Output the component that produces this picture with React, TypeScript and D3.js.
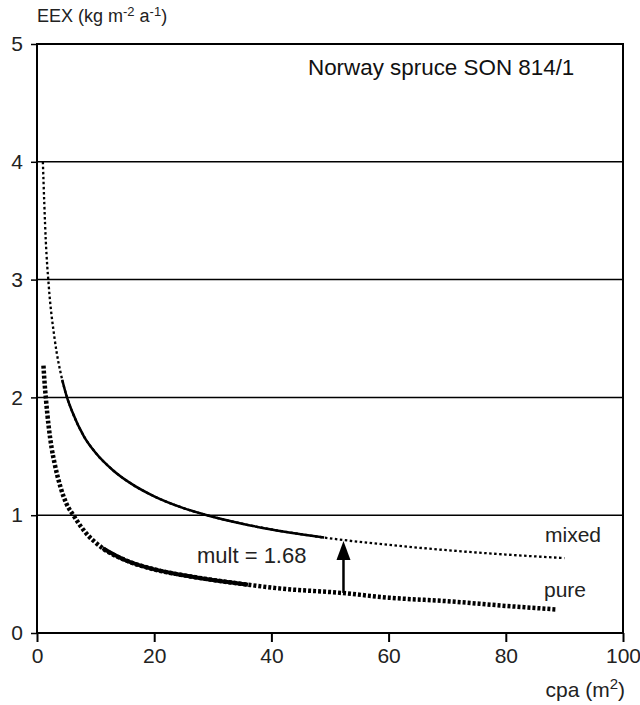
import { useEffect, useRef } from "react"
import * as d3 from "d3"

// axis ticks
const xTicks = [0, 20, 40, 60, 80, 100]
const yTicks = [0, 1, 2, 3, 4, 5]

// mixed stand curve (cpa, EEX)
const mixedX = [1, 1.5, 2, 3, 4.3, 5, 6, 8, 10, 13, 16, 20, 25, 29, 35, 40, 45, 49, 55, 60, 70, 80, 90]
const mixedY = [4.0, 3.33, 2.95, 2.5, 2.15, 2.02, 1.88, 1.67, 1.53, 1.38, 1.27, 1.16, 1.06, 1.0, 0.928, 0.879, 0.839, 0.81, 0.774, 0.748, 0.703, 0.666, 0.636]
const mixedSolid = [4.3, 49]

// pure stand curve
const pureX = [1.1, 1.3, 1.5, 2, 2.5, 3, 4, 5, 6.2, 8, 11.2, 15, 20, 25, 30, 36, 41, 52, 60, 70, 80, 88.6]
const pureY = [2.27, 2.12, 2.0, 1.75, 1.57, 1.44, 1.24, 1.1, 1.0, 0.87, 0.72, 0.62, 0.54, 0.49, 0.45, 0.41, 0.38, 0.34, 0.3, 0.27, 0.23, 0.2]
const pureSolid = [11.2, 36]

// multiplier arrow
const arrowX = 52.3
const arrowFrom = 0.34
const arrowTo = 0.78

const FONT = "'Liberation Sans', Arial, Helvetica, sans-serif"

export default function App() {
  const svgRef = useRef<SVGSVGElement>(null)

  useEffect(() => {
    if (!svgRef.current) return
    const width = 640
    const height = 705
    const svg = d3.select(svgRef.current)
    svg.selectAll("*").remove()
    svg.attr("width", width).attr("height", height).style("font-family", FONT)

    const x = d3.scaleLinear().domain([0, 100]).range([37, 623])
    const y = d3.scaleLinear().domain([0, 5]).range([633, 44])

    // horizontal grid lines
    svg.append("g")
      .selectAll("line")
      .data(yTicks.filter(d => d > 0 && d < 5))
      .join("line")
      .attr("x1", x(0)).attr("x2", x(100))
      .attr("y1", d => y(d)).attr("y2", d => y(d))
      .attr("stroke", "#000").attr("stroke-width", 1.5)

    // frame
    svg.append("rect")
      .attr("x", x(0)).attr("y", y(5))
      .attr("width", x(100) - x(0)).attr("height", y(0) - y(5))
      .attr("fill", "none").attr("stroke", "#000").attr("stroke-width", 2)

    // x axis
    const xAxis = svg.append("g").attr("transform", `translate(0,${y(0)})`)
      .call(d3.axisBottom(x).tickValues(xTicks).tickSize(9).tickPadding(6).tickFormat(d3.format("d")))
    xAxis.select(".domain").remove()
    xAxis.selectAll("line").attr("stroke-width", 2)
    xAxis.selectAll("text").attr("font-size", 21).attr("font-family", FONT).attr("fill", "#222")

    // y axis
    const yAxis = svg.append("g").attr("transform", `translate(${x(0)},0)`)
      .call(d3.axisLeft(y).tickValues(yTicks).tickSize(6).tickPadding(8).tickFormat(d3.format("d")))
    yAxis.select(".domain").remove()
    yAxis.selectAll("line").attr("stroke-width", 1.5)
    yAxis.selectAll("text").attr("font-size", 21).attr("font-family", FONT).attr("fill", "#222")

    // axis titles
    const yt = svg.append("text").attr("x", 37).attr("y", 22).attr("font-size", 18).attr("fill", "#222")
    yt.append("tspan").text("EEX (kg m")
    yt.append("tspan").attr("dy", -6).attr("font-size", 13).text("-2")
    yt.append("tspan").attr("dy", 6).text(" a")
    yt.append("tspan").attr("dy", -6).attr("font-size", 13).text("-1")
    yt.append("tspan").attr("dy", 6).text(")")

    const xt = svg.append("text").attr("x", 625).attr("y", 697).attr("text-anchor", "end")
      .attr("font-size", 21).attr("fill", "#222")
    xt.append("tspan").text("cpa (m")
    xt.append("tspan").attr("dy", -8).attr("font-size", 15).text("2")
    xt.append("tspan").attr("dy", 8).text(")")

    svg.append("text").attr("x", 308).attr("y", 75).attr("font-size", 22.4).attr("fill", "#111")
      .text("Norway spruce SON 814/1")

    const line = d3.line<[number, number]>()
      .x(d => x(d[0])).y(d => y(d[1]))
      .curve(d3.curveMonotoneX)

    const mixed: [number, number][] = mixedX.map((v, i) => [v, mixedY[i]])
    const pure: [number, number][] = pureX.map((v, i) => [v, pureY[i]])

    // dotted full curves
    svg.append("path").datum(pure).attr("d", line)
      .attr("fill", "none").attr("stroke", "#000").attr("stroke-width", 4.5)
      .attr("stroke-dasharray", "3 2")
    svg.append("path").datum(mixed).attr("d", line)
      .attr("fill", "none").attr("stroke", "#000").attr("stroke-width", 2.3)
      .attr("stroke-dasharray", "2.5 2.5")

    // solid observed ranges
    svg.append("path").datum(pure.filter(d => d[0] >= pureSolid[0] && d[0] <= pureSolid[1])).attr("d", line)
      .attr("fill", "none").attr("stroke", "#000").attr("stroke-width", 4)
    svg.append("path").datum(mixed.filter(d => d[0] >= mixedSolid[0] && d[0] <= mixedSolid[1])).attr("d", line)
      .attr("fill", "none").attr("stroke", "#000").attr("stroke-width", 2.5)

    // arrow
    const ax = x(arrowX)
    const tipY = y(arrowTo)
    const headLen = 19
    svg.append("line")
      .attr("x1", ax).attr("x2", ax)
      .attr("y1", y(arrowFrom)).attr("y2", tipY + headLen - 2)
      .attr("stroke", "#000").attr("stroke-width", 2.5)
    svg.append("path")
      .attr("d", `M${ax},${tipY} L${ax - 7},${tipY + headLen} L${ax + 7},${tipY + headLen} Z`)
      .attr("fill", "#000")

    // labels
    svg.append("text").attr("x", 197).attr("y", 563).attr("font-size", 22).attr("fill", "#222").text("mult = 1.68")
    svg.append("text").attr("x", 545).attr("y", 542).attr("font-size", 21).attr("fill", "#222").text("mixed")
    svg.append("text").attr("x", 544).attr("y", 597).attr("font-size", 21).attr("fill", "#222").text("pure")
  }, [])

  return (
    <svg ref={svgRef} style={{ position: "absolute", left: 0, top: 0 }} />
  )
}
